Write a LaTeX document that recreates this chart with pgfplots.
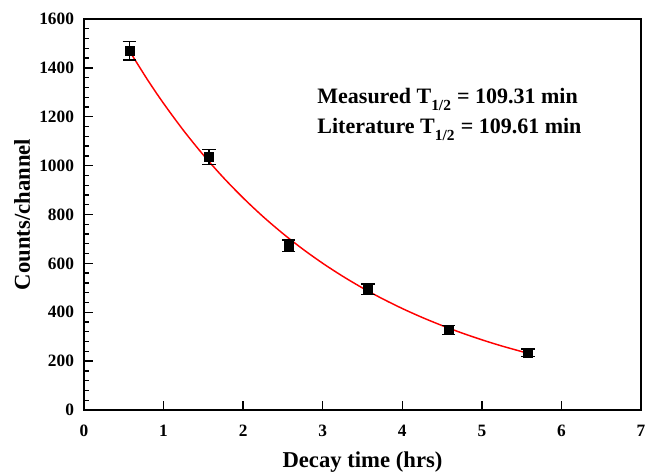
\documentclass[border=0pt]{standalone}
\usepackage{pgfplots}
\pgfplotsset{compat=1.18}
\usepackage{fontspec}
\setmainfont{Liberation Serif}

\begin{document}
\begin{tikzpicture}
\useasboundingbox (-63pt,-45.75pt) rectangle (423pt,307.5pt);
\begin{axis}[
    scale only axis,
    width=417.75pt, height=293.25pt,
    xmin=0, xmax=7, ymin=0, ymax=1600,
    xtick={0,1,...,7},
    ytick={0,200,...,1600},
    minor y tick num=4,
    xtick pos=bottom, ytick pos=left,
    tick align=inside,
    major tick length=7pt,
    minor tick length=4pt,
    axis line style={line width=1.3pt},
    every tick/.style={line width=1pt, black},
    /pgf/number format/assume math mode=true,
    /pgf/number format/1000 sep={},
    ticklabel style={font=\fontsize{13}{15}\selectfont\bfseries},
    xticklabel style={yshift=-8pt},
    yticklabel style={xshift=-4pt},
    label style={font=\fontsize{17}{20}\selectfont\bfseries},
    xlabel={Decay time (hrs)},
    ylabel={Counts/channel},
    xlabel style={yshift=-4.5pt},
    ylabel style={yshift=0pt},
]
% exponential fit
\addplot[red, line width=1.1pt, smooth] coordinates {
    (0.57,1470) (0.8,1350.5) (1.0,1254.6) (1.25,1144.1) (1.5,1043.5)
    (1.75,951.6) (2.0,867.9) (2.25,791.5) (2.5,721.9) (2.75,658.3)
    (3.0,600.4) (3.25,547.6) (3.5,499.4) (3.75,455.4) (4.0,415.3)
    (4.25,378.8) (4.5,345.5) (4.75,315.1) (5.0,287.3) (5.25,262.0)
    (5.58,232.0)
};
% measured points
\addplot[black, only marks, mark=square*, mark size=3.4pt,
    error bars/.cd, y dir=both, y explicit,
    error bar style={line width=1pt},
    error mark options={rotate=90, mark size=5pt, line width=1pt}]
    coordinates {
    (0.57,1470) +- (0,38)
    (1.57,1036) +- (0,31)
    (2.57,672) +- (0,24)
    (3.57,494) +- (0,22)
    (4.58,328) +- (0,18)
    (5.58,235) +- (0,15)
};
\node[anchor=west, inner sep=0pt, font=\fontsize{16.5}{19}\selectfont\bfseries]
    at (axis cs:2.93,1270) {Measured T\textsubscript{\raisebox{-0.5ex}{1/2}} = 109.31 min};
\node[anchor=west, inner sep=0pt, font=\fontsize{16.5}{19}\selectfont\bfseries]
    at (axis cs:2.93,1150) {Literature T\textsubscript{\raisebox{-0.5ex}{1/2}} = 109.61 min};
\end{axis}
\end{tikzpicture}
\end{document}
